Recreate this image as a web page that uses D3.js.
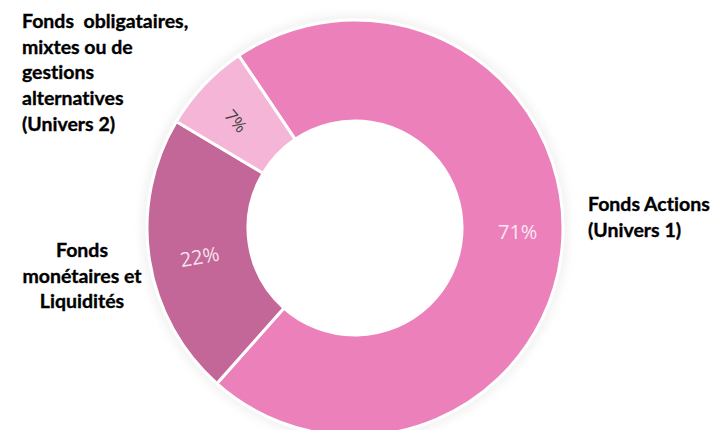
<!DOCTYPE html>
<html>
<script src="https://d3js.org/d3.v7.min.js"></script>

<head>
    <meta charset="utf-8">
    <style>
        body {
            margin: 0;
            background-color: #ffffff;
            font-family: Lato, "Open Sans", sans-serif;
        }

        text {
            font-variant-ligatures: none;
        }
    </style>
</head>

<body>
</body>
<script>
    const width = 713,
        height = 430;

    const categories = ["Fonds Actions (Univers 1)", "Fonds monétaires et Liquidités", "Fonds obligataires, mixtes ou de gestions alternatives (Univers 2)"];
    const values = [71, 22, 7];
    const pctLabels = ["71%", "22%", "7%"];

    const svg = d3.select("body").append("svg").attr("width", width).attr("height", height);

    const cx = 355, cy = 228, rOuter = 208, rInner = 107;

    const color = d3.scaleOrdinal()
        .domain(categories)
        .range(["#ec80bb", "#c36698", "#f4b5d6"]);

    const pie = d3.pie()
        .value(d => d.value)
        .sort(null)
        .startAngle(-34 * Math.PI / 180)
        .endAngle(326 * Math.PI / 180);

    const data = categories.map((c, i) => ({ name: c, value: values[i], label: pctLabels[i] }));
    const arcs = pie(data);

    const arc = d3.arc().innerRadius(rInner).outerRadius(rOuter);

    // soft halo round the outside of the ring
    const defs = svg.append("defs");
    const f = defs.append("filter").attr("id", "halo").attr("x", "-20%").attr("y", "-20%").attr("width", "140%").attr("height", "140%");
    f.append("feGaussianBlur").attr("stdDeviation", 5);

    const g = svg.append("g").attr("transform", `translate(${cx},${cy})`);

    g.append("circle")
        .attr("r", rOuter)
        .attr("fill", "none")
        .attr("stroke", "#e6e6e6")
        .attr("stroke-width", 10)
        .attr("opacity", 0.6)
        .attr("filter", "url(#halo)");

    g.selectAll("path.slice")
        .data(arcs)
        .enter()
        .append("path")
        .attr("class", "slice")
        .attr("d", arc)
        .attr("fill", d => color(d.data.name))
        .attr("stroke", "#ffffff")
        .attr("stroke-width", 3);

    // percent labels inside the slices
    const labelStyle = [
        { fill: "#fde6f2", rot: 0, size: 20, dx: 3, dy: -5 },
        { fill: "#f8e0ed", rot: -10, size: 20, dx: 3, dy: 6 },
        { fill: "#444444", rot: 50, size: 17, dx: -4, dy: 4 }
    ];
    const labelArc = d3.arc().innerRadius(160).outerRadius(160);
    g.selectAll("text.pct")
        .data(arcs)
        .enter()
        .append("text")
        .attr("class", "pct")
        .attr("transform", (d, i) => {
            const [x, y] = labelArc.centroid(d);
            const s = labelStyle[i];
            return `translate(${x + s.dx},${y + s.dy}) rotate(${s.rot})`;
        })
        .attr("text-anchor", "middle")
        .attr("dominant-baseline", "middle")
        .attr("font-family", "'Open Sans', sans-serif")
        .attr("font-size", (d, i) => labelStyle[i].size)
        .attr("fill", (d, i) => labelStyle[i].fill)
        .text(d => d.data.label);

    // category labels
    function multiline(x, y, lines, anchor) {
        const t = svg.append("text")
            .attr("x", x)
            .attr("y", y)
            .attr("font-size", 19.5)
            .attr("font-weight", "bold")
            .attr("fill", "#000000")
            .attr("stroke", "#000000")
            .attr("stroke-width", 0.35)
            .attr("text-anchor", anchor)
            .attr("xml:space", "preserve");
        lines.forEach((l, i) => {
            t.append("tspan").attr("x", x).attr("dy", i === 0 ? 0 : 25.7).text(l);
        });
    }

    multiline(22, 28, ["Fonds  obligataires,", "mixtes ou de", "gestions", "alternatives", "(Univers 2)"], "start");
    multiline(82, 257, ["Fonds", "monétaires et", "Liquidités"], "middle");
    multiline(588, 211, ["Fonds Actions", "(Univers 1)"], "start");
</script>

</html>
